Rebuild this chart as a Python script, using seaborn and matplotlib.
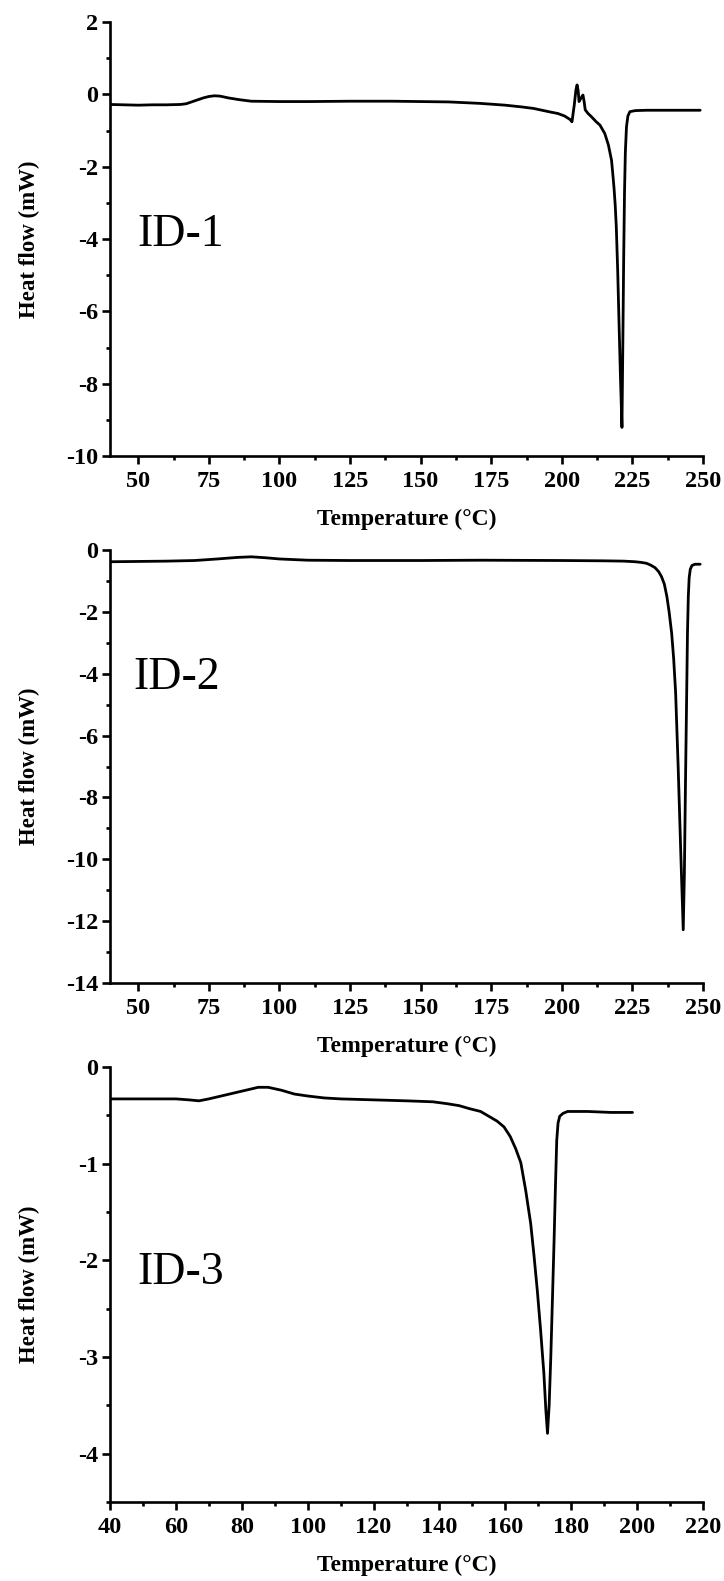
import matplotlib
matplotlib.use("Agg")
import matplotlib.pyplot as plt
from matplotlib.ticker import MultipleLocator
import seaborn as sns

# DSC traces (temperature in °C, heat flow in mW)
temp_id1 = [40, 45, 50, 55, 60, 65, 67, 70, 73, 75, 77, 79, 82, 86, 90, 100, 110, 125,
            140, 150, 160, 171, 180, 186, 190, 193, 196, 198.6, 201, 203.0, 203.6,
            204.4, 205.0, 205.4, 205.8, 206.1, 206.7, 207.2, 207.5, 207.9, 208.3,
            209.3, 210.5, 212.2, 213.5, 215.2, 216.5, 217.6, 218.0, 218.5, 218.9,
            219.3, 219.8, 220.3, 220.8, 221.3, 221.6, 221.9, 222.2, 222.5, 222.9,
            223.4, 224.1, 226, 230, 240, 249]
flow_id1 = [-0.28, -0.29, -0.30, -0.29, -0.29, -0.28, -0.26, -0.18, -0.10, -0.06,
            -0.04, -0.05, -0.10, -0.15, -0.19, -0.20, -0.20, -0.19, -0.19, -0.20,
            -0.21, -0.25, -0.30, -0.35, -0.39, -0.44, -0.49, -0.53, -0.60, -0.70,
            -0.76, -0.30, 0.12, 0.26, 0.10, -0.20, -0.12, -0.05, -0.02, -0.20,
            -0.43, -0.53, -0.62, -0.76, -0.85, -1.08, -1.40, -1.82, -2.15, -2.60,
            -3.05, -3.67, -4.90, -6.44, -7.90, -9.21, -7.00, -4.60, -2.74, -1.60,
            -0.90, -0.60, -0.48, -0.45, -0.44, -0.44, -0.44]

temp_id2 = [40, 50, 60, 70, 78, 85, 90, 95, 100, 110, 125, 150, 171, 200, 215, 222,
            224, 226, 228, 230, 231.5, 233, 234.3, 235.3, 236.3, 237.2, 238, 238.9,
            239.6, 240.3, 241.2, 242.2, 243.0, 243.4, 243.8, 244.2, 244.5, 244.8,
            245.1, 245.5, 246.1, 247.2, 249]
flow_id2 = [-0.38, -0.37, -0.36, -0.34, -0.29, -0.24, -0.22, -0.25, -0.29, -0.33,
            -0.34, -0.34, -0.33, -0.34, -0.35, -0.36, -0.37, -0.38, -0.40, -0.43,
            -0.49, -0.57, -0.70, -0.86, -1.10, -1.50, -2.00, -2.69, -3.50, -4.60,
            -7.00, -10.00, -12.28, -10.50, -7.50, -4.80, -2.69, -1.50, -0.90,
            -0.62, -0.50, -0.46, -0.46]

temp_id3 = [40, 50, 60, 64, 67, 70, 75, 80, 85, 88, 92, 96, 100, 105, 110, 120, 130,
            138, 142.4, 146, 149, 152.5, 155, 157.5, 159.6, 161.5, 163.2, 164.7,
            166.2, 167.7, 168.7, 169.7, 170.7, 171.7, 172.3, 172.8, 173.3, 173.8,
            174.3, 174.8, 175.2, 175.6, 176.0, 176.5, 177.5, 178.9, 185, 192, 198.6]
flow_id3 = [-0.33, -0.33, -0.33, -0.34, -0.35, -0.33, -0.29, -0.25, -0.21, -0.21,
            -0.24, -0.28, -0.30, -0.32, -0.33, -0.34, -0.35, -0.36, -0.38, -0.40,
            -0.43, -0.46, -0.51, -0.56, -0.62, -0.72, -0.85, -0.99, -1.28, -1.62,
            -1.95, -2.31, -2.72, -3.17, -3.55, -3.79, -3.50, -3.00, -2.40, -1.79,
            -1.25, -0.76, -0.58, -0.51, -0.48, -0.46, -0.46, -0.47, -0.47]

sample_names = ["ID-1", "ID-2", "ID-3"]

sns.set_style("ticks")
plt.rcParams["font.family"] = ["Liberation Serif", "DejaVu Serif"]
plt.rcParams["font.weight"] = "bold"
for key in ("text.color", "axes.labelcolor", "xtick.color", "ytick.color",
            "axes.edgecolor"):
    plt.rcParams[key] = "black"

fig = plt.figure(figsize=(7.24, 15.81), dpi=100)

W = 724.0
H = 1581.0
ax_left = 110 / W
ax_width = (703 - 110) / W
# top / bottom pixel rows of each panel
rows = [(22, 456), (550, 983), (1067, 1502)]

panels = [
    dict(x=temp_id1, y=flow_id1, xlim=(40, 250), ylim=(-10, 2), xmaj=25, xmin=12.5,
         ymaj=2, ymin=1, label_xy=(49.6, -4.18)),
    dict(x=temp_id2, y=flow_id2, xlim=(40, 250), ylim=(-14, 0), xmaj=25, xmin=12.5,
         ymaj=2, ymin=1, label_xy=(48.4, -4.49)),
    dict(x=temp_id3, y=flow_id3, xlim=(40, 220), ylim=(-4.5, 0), xmaj=20, xmin=10,
         ymaj=1, ymin=0.5, label_xy=(48.4, -2.245)),
]

for (top, bot), p, name in zip(rows, panels, sample_names):
    ax = fig.add_axes([ax_left, 1 - bot / H, ax_width, (bot - top) / H])
    sns.lineplot(x=p["x"], y=p["y"], ax=ax, color="black", linewidth=2.0,
                 estimator=None, sort=False)
    ax.set_xlim(*p["xlim"])
    ax.set_ylim(*p["ylim"])
    ax.xaxis.set_major_locator(MultipleLocator(p["xmaj"]))
    ax.xaxis.set_minor_locator(MultipleLocator(p["xmin"]))
    ax.yaxis.set_major_locator(MultipleLocator(p["ymaj"]))
    ax.yaxis.set_minor_locator(MultipleLocator(p["ymin"]))
    sns.despine(ax=ax)
    for s in ("left", "bottom"):
        ax.spines[s].set_linewidth(1.9)
    ax.tick_params(which="major", direction="out", length=5.5, width=1.9,
                   labelsize=17.5, pad=5)
    ax.tick_params(which="minor", direction="out", length=3.2, width=1.9)
    ax.tick_params(axis="y", which="major", pad=3)
    # the 40 °C label is left off the 250 °C axes, and -4.5 on the last one
    xt = [t for t in ax.get_xticks() if p["xlim"][0] <= t <= p["xlim"][1]]
    if p["xlim"][1] == 250:
        ax.set_xticks(xt)
        ax.set_xticklabels(["" if t == 40 else f"{int(t)}" for t in xt])
    yt = [t for t in ax.get_yticks() if p["ylim"][0] <= t <= p["ylim"][1]]
    ax.set_yticks(yt)
    ax.set_yticklabels([f"{t:g}" if t != p["ylim"][0] or p["ymaj"] != 1 else ""
                        for t in yt])
    for lab in ax.get_xticklabels() + ax.get_yticklabels():
        lab.set_fontweight("bold")
    ax.set_xlabel("Temperature (°C)", fontsize=17, fontweight="bold")
    ax.set_ylabel("Heat flow (mW)", fontsize=16.5, fontweight="bold")
    ax.xaxis.set_label_coords(0.5, -0.122)
    ax.yaxis.set_label_coords(-0.118, 0.5)
    ax.text(p["label_xy"][0], p["label_xy"][1], name, fontsize=33,
            fontweight="normal", color="black", ha="left", va="baseline")

fig.savefig("out.png", dpi=100, facecolor="white")
